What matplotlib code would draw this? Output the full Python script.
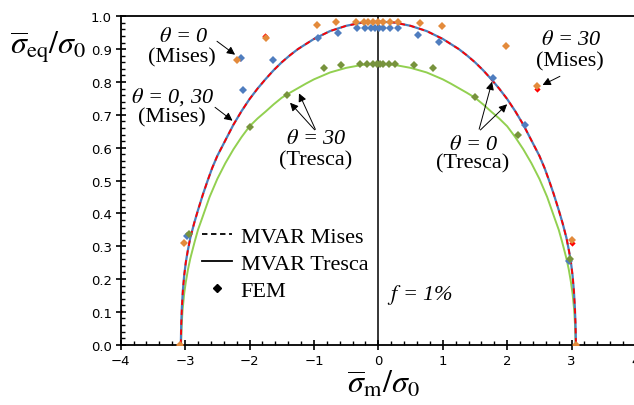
import matplotlib.pyplot as plt
from matplotlib.ticker import MultipleLocator

# MVAR curves (right half; mirrored for the left half)
mises_x = [0, 0.25, 0.5, 0.75, 1.0, 1.25, 1.375, 1.5, 1.625, 1.75, 1.875, 2.0,
           2.125, 2.25, 2.35, 2.5, 2.58, 2.65, 2.72, 2.8, 2.86, 2.92, 2.96,
           2.99, 3.015, 3.035, 3.05, 3.06, 3.067]
mises_y = [0.984, 0.981, 0.971, 0.955, 0.931, 0.900, 0.881, 0.860, 0.836, 0.809,
           0.780, 0.748, 0.711, 0.670, 0.632, 0.575, 0.538, 0.500, 0.460, 0.410,
           0.370, 0.325, 0.285, 0.250, 0.210, 0.165, 0.115, 0.065, 0.0]

tresca_x = [0, 0.25, 0.5, 0.75, 1.0, 1.125, 1.25, 1.375, 1.5, 1.625, 1.75, 1.875,
            2.0, 2.125, 2.25, 2.375, 2.5, 2.62, 2.74, 2.8, 2.85, 2.89, 2.92,
            2.955, 2.99, 3.015, 3.04, 3.056, 3.063]
tresca_y = [0.855, 0.852, 0.843, 0.829, 0.808, 0.795, 0.781, 0.767, 0.752, 0.732,
            0.710, 0.689, 0.665, 0.632, 0.595, 0.553, 0.505, 0.450, 0.383, 0.350,
            0.315, 0.285, 0.262, 0.230, 0.190, 0.155, 0.105, 0.050, 0.0]

# FEM points
fem_orange_x = [-0.34, -0.23, -0.16, -0.08, 0.0, 0.07, 0.18, 0.31, -0.66, 0.64,
                -0.96, 0.99, -1.75, 1.98, -2.20, 2.47, -3.01, 3.01, -3.08, 3.065]
fem_orange_y = [0.984, 0.984, 0.984, 0.984, 0.984, 0.984, 0.984, 0.984, 0.982, 0.980,
                0.974, 0.971, 0.935, 0.910, 0.867, 0.787, 0.309, 0.318, 0.0, 0.0]

fem_blue_x = [-0.33, -0.21, -0.11, -0.05, 0.01, 0.07, 0.18, 0.31, -0.63, 0.62,
              -0.93, 0.94, -1.63, 1.78, -2.10, 2.28, -2.14, -2.97, 2.96]
fem_blue_y = [0.963, 0.963, 0.963, 0.963, 0.963, 0.963, 0.963, 0.963, 0.949, 0.944,
              0.935, 0.923, 0.866, 0.813, 0.777, 0.669, 0.872, 0.330, 0.254]

fem_green_x = [-0.28, -0.18, -0.08, -0.02, 0.03, 0.07, 0.16, 0.26, -0.58, 0.56,
               -0.84, 0.85, -1.42, 1.50, -1.99, 2.16, -2.94, 2.98]
fem_green_y = [0.855, 0.855, 0.855, 0.855, 0.855, 0.855, 0.855, 0.855, 0.852, 0.852,
               0.844, 0.843, 0.761, 0.755, 0.662, 0.639, 0.336, 0.261]

# small red MVAR markers
red_x = [-2.15, -1.76, 2.46, 3.00]
red_y = [0.874, 0.941, 0.779, 0.309]

plt.rcParams['font.family'] = ['Liberation Serif', 'DejaVu Serif']
plt.rcParams['mathtext.fontset'] = 'stix'

fig = plt.figure(figsize=(6.34, 4.06), dpi=100)
ax = fig.add_axes([0.1904, 0.1485, 0.8128, 0.8089])

mx = [-v for v in mises_x[::-1]] + mises_x[1:]
my = mises_y[::-1] + mises_y[1:]
tx = [-v for v in tresca_x[::-1]] + tresca_x[1:]
ty = tresca_y[::-1] + tresca_y[1:]

ax.axvline(0, color='black', lw=1.1, zorder=1)
ax.plot(tx, ty, color='#92D050', lw=1.4, zorder=2)
ax.plot(mx, my, color='#4A7EBB', lw=1.6, zorder=2)
ax.plot(mx, my, color='#FF0000', lw=1.3, ls=(0, (3, 2.5)), zorder=3)

mk = dict(marker='D', ls='none', ms=4.2, mew=0, zorder=5)
ax.plot(red_x, red_y, color='#FF0000', marker='D', ls='none', ms=3.2, mew=0, zorder=4)
ax.plot(fem_blue_x, fem_blue_y, color='#4F7DBF', **mk)
ax.plot(fem_orange_x, fem_orange_y, color='#E38A3B', **mk)
ax.plot(fem_green_x, fem_green_y, color='#77933C', **mk)

# legend
h1, = ax.plot([], [], color='black', ls=(0, (3, 2)), lw=1.3)
h2, = ax.plot([], [], color='black', lw=1.3)
h3, = ax.plot([], [], color='black', marker='D', ls='none', ms=4.5)
ax.legend([h1, h2, h3], ['MVAR Mises', 'MVAR Tresca', 'FEM'], frameon=False,
          fontsize=16, loc='upper left', bbox_to_anchor=(0.157, 0.361),
          handlelength=1.35, handletextpad=0.4, labelspacing=0.3, borderpad=0,
          borderaxespad=0)

ax.set_xlim(-4, 4)
ax.set_ylim(0, 1)
ax.xaxis.set_major_locator(MultipleLocator(1))
ax.xaxis.set_minor_locator(MultipleLocator(0.2))
ax.yaxis.set_major_locator(MultipleLocator(0.1))
ax.yaxis.set_minor_locator(MultipleLocator(0.02))
ax.set_yticks([i / 10 for i in range(11)])
ax.set_yticklabels(['%.1f' % (i / 10) for i in range(11)])
ax.tick_params(which='major', direction='inout', length=7, width=1.2,
               labelsize=9.5, labelfontfamily='DejaVu Sans', pad=3)
ax.tick_params(which='minor', direction='in', length=3, width=1.0)
ax.spines['right'].set_visible(False)
for s in ['left', 'bottom', 'top']:
    ax.spines[s].set_linewidth(1.3)

# axis labels (horizontal)
fig.text(48 / 634, 1 - 47 / 406, r'$\overline{\sigma}_{\rm eq}/\sigma_0$',
         fontsize=23, ha='center', va='center')
fig.text(383 / 634, 1 - 385 / 406, r'$\overline{\sigma}_{\rm m}/\sigma_0$',
         fontsize=23, ha='center', va='center')

# annotations
arr = dict(arrowstyle='-|>', color='black', lw=0.7, mutation_scale=12)
ax.text(-3.02, 0.937, r'$\theta$ = 0', fontsize=16, style='italic', ha='center', va='center')
ax.text(-3.05, 0.876, '(Mises)', fontsize=16, ha='center', va='center')
ax.annotate('', xy=(-2.19, 0.878), xytext=(-2.54, 0.929), arrowprops=arr)

ax.text(-3.19, 0.757, r'$\theta$ = 0, 30', fontsize=16, style='italic', ha='center', va='center')
ax.text(-3.2, 0.693, '(Mises)', fontsize=16, ha='center', va='center')
ax.annotate('', xy=(-2.23, 0.677), xytext=(-2.57, 0.728), arrowprops=arr)

ax.text(-0.96, 0.629, r'$\theta$ = 30', fontsize=16, style='italic', ha='center', va='center')
ax.text(-0.98, 0.563, '(Tresca)', fontsize=16, ha='center', va='center')
ax.annotate('', xy=(-1.40, 0.743), xytext=(-0.96, 0.648), arrowprops=arr)
ax.annotate('', xy=(-1.25, 0.773), xytext=(-0.96, 0.648), arrowprops=arr)

ax.text(1.48, 0.610, r'$\theta$ = 0', fontsize=16, style='italic', ha='center', va='center')
ax.text(1.47, 0.553, '(Tresca)', fontsize=16, ha='center', va='center')
ax.annotate('', xy=(1.776, 0.809), xytext=(1.553, 0.648), arrowprops=arr)
ax.annotate('', xy=(2.03, 0.738), xytext=(1.553, 0.648), arrowprops=arr)

ax.text(2.99, 0.928, r'$\theta$ = 30', fontsize=16, style='italic', ha='center', va='center')
ax.text(2.98, 0.863, '(Mises)', fontsize=16, ha='center', va='center')
ax.annotate('', xy=(2.51, 0.787), xytext=(2.857, 0.821), arrowprops=arr)

ax.text(0.65, 0.154, r'$f$ = 1%', fontsize=16, style='italic', ha='center', va='center')

fig.savefig('out.png', dpi=100)
